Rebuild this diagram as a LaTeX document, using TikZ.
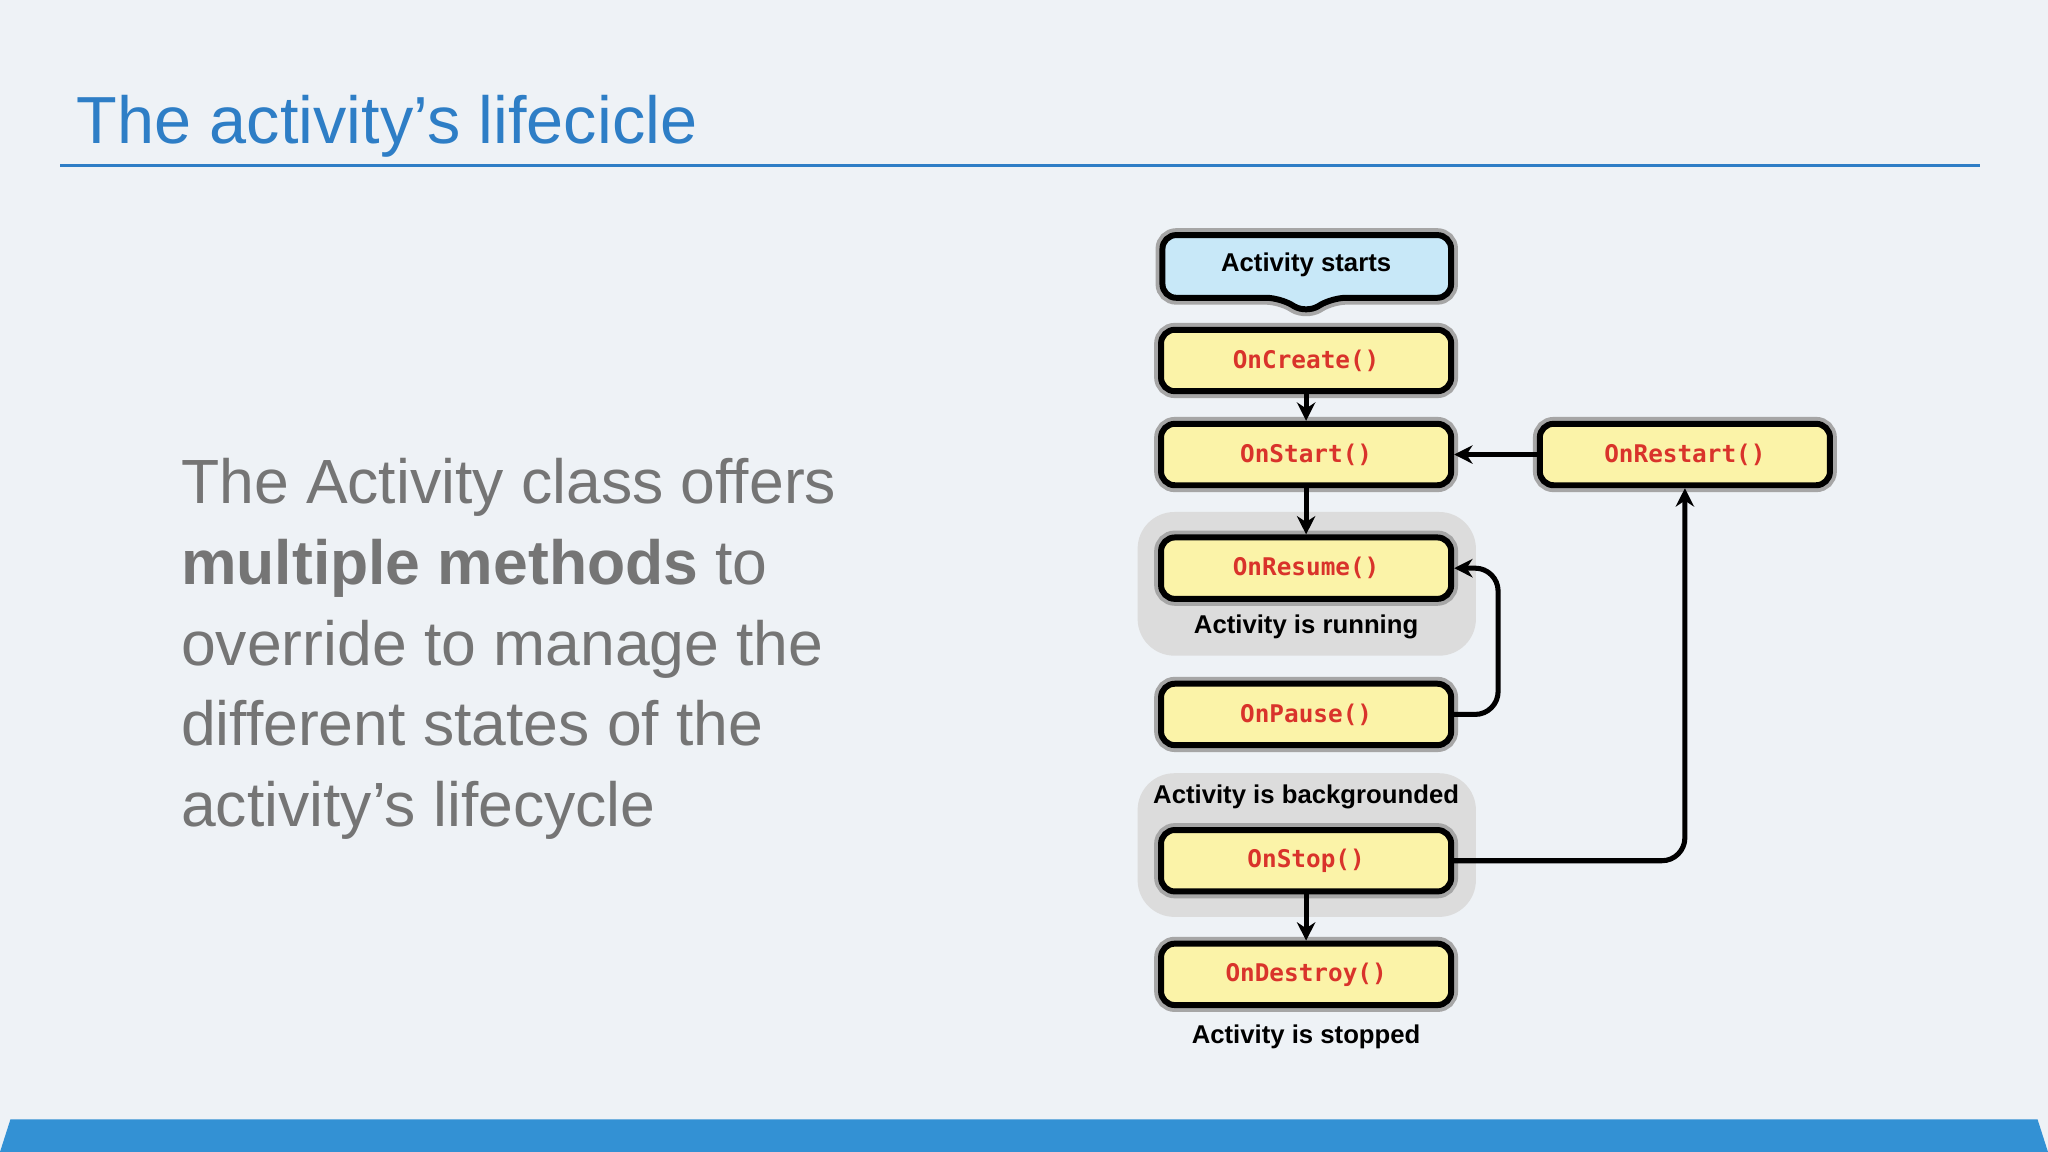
\documentclass[tikz,border=0pt]{standalone}
\usepackage{fontspec}
\setmainfont{Liberation Sans}
\setmonofont{DejaVu Sans Mono}
\usetikzlibrary{arrows.meta}
\definecolor{bg}{HTML}{EEF2F6}
\definecolor{tblue}{HTML}{2E7EC6}
\definecolor{band}{HTML}{3391D4}
\definecolor{gtxt}{HTML}{757575}
\definecolor{boxy}{HTML}{FBF3A8}
\definecolor{red1}{HTML}{D9332B}
\definecolor{sky}{HTML}{C8E8F8}
\definecolor{grp}{HTML}{DCDCDC}
\tikzset{
 meth/.style={draw=black, fill=boxy, line width=1.3pt, rounded corners=3pt, minimum width=2.22cm, minimum height=0.47cm,
   preaction={draw=gray!70, line width=3pt}, font=\ttfamily\bfseries\fontsize{5.3}{6}\selectfont, text=red1},
 lab/.style={font=\bfseries\fontsize{5.6}{7}\selectfont},
 arr/.style={-{Stealth[length=4pt,width=4pt]}, line width=1.1pt},
 grpbox/.style={fill=grp, rounded corners=8pt}
}
\begin{document}
\begin{tikzpicture}[x=0.01cm,y=-0.01cm]
\fill[bg] (0,0) rectangle (1568,882);
\useasboundingbox (0,0) rectangle (1568,882);
\node[anchor=base west, text=tblue, font=\fontsize{14.5}{17}\selectfont, inner sep=0] (title) at (58,110) {The activity’s lifecicle};
\draw[tblue, line width=0.6pt] (46,127) -- (1516,127);
\fill[band] (0,882) -- (8,857) -- (1560,857) -- (1568,882) -- cycle;
\node[anchor=north west, text=gtxt, align=left, inner sep=0, font=\fontsize{13.6}{17.6}\selectfont] (body) at (138,350)
 {The Activity class offers\\ \textbf{multiple methods} to\\ override to manage the\\ different states of the\\ activity’s lifecycle};
% groups
\fill[grpbox] (871,392) rectangle (1130,502);
\fill[grpbox] (871,592) rectangle (1130,702);
% start
\draw[fill=sky, line width=1.3pt, rounded corners=3pt, preaction={draw=gray!70, line width=3pt}]
 (890,180) -- (1111,180) -- (1111,228) -- (1020,228) -- (1000,240) -- (980,228) -- (890,228) -- cycle;
\node[lab] (start) at (1000,203) {Activity starts};
\node[meth] (create) at (1000,276) {OnCreate()};
\node[meth] (startm) at (1000,348) {OnStart()};
\node[meth] (resume) at (1000,435) {OnResume()};
\node[meth] (pause) at (1000,547) {OnPause()};
\node[meth] (stop) at (1000,659) {OnStop()};
\node[meth] (destroy) at (1000,746) {OnDestroy()};
\node[meth] (restart) at (1290,348) {OnRestart()};
\node[lab] (lrun) at (1000,480) {Activity is running};
\node[lab] (lbg) at (1000,610) {Activity is backgrounded};
\node[lab] (lstop) at (1000,794) {Activity is stopped};
\draw[arr] (create) -- (startm);
\draw[arr] (startm) -- (resume);
\draw[arr] (stop) -- (destroy);
\draw[arr] (restart) -- (startm);
\draw[arr, rounded corners=5pt] (pause.east) -- (1147,547) -- (1147,435) -- (resume.east);
\draw[arr, rounded corners=5pt] (stop.east) -- (1290,659) -- (restart.south);
\end{tikzpicture}
\end{document}
